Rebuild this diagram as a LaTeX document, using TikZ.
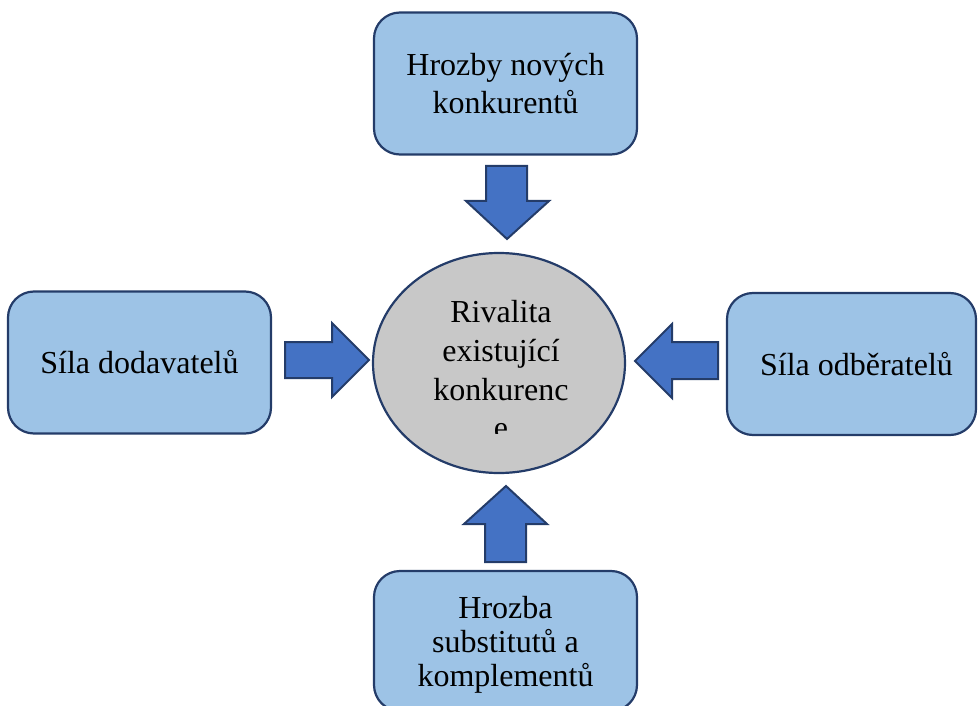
\documentclass[tikz,border=0pt]{standalone}
\usepackage{fontspec}
\setmainfont{Liberation Serif}
\usetikzlibrary{shapes.geometric}
\definecolor{boxfill}{RGB}{157,195,230}
\definecolor{edgecol}{RGB}{36,60,105}
\definecolor{arrowfill}{RGB}{68,114,196}
\definecolor{ellfill}{RGB}{200,200,200}
\begin{document}
\begin{tikzpicture}[x=1pt,y=-1pt,
  forcebox/.style={draw=edgecol, fill=boxfill, line width=2.2pt, rounded corners=26pt,
    minimum width=263pt, minimum height=142pt, align=center,
    font=\fontsize{32}{38}\selectfont, inner sep=0pt},
  blockarrow/.style={draw=edgecol, fill=arrowfill, line width=2pt, line join=miter},
  core/.style={ellipse, draw=edgecol, fill=ellfill, line width=2.2pt,
    minimum width=252pt, minimum height=220pt, inner sep=0pt},
  coretext/.style={align=center, font=\fontsize{32}{38.7}\selectfont, inner sep=0pt}]
\useasboundingbox (0,0) rectangle (978,706);
\clip (0,0) rectangle (978,706);
% boxes
\node[forcebox] (entrants) at (505.5,83.5) {Hrozby nových\\konkurentů};
\node[forcebox] (suppliers) at (139.5,362.5) {Síla dodavatelů};
\node[forcebox, minimum width=249pt] (buyers) at (851.5,364) {\hspace*{10pt}Síla odběratelů};
\node[forcebox, minimum height=140pt, font=\fontsize{32}{34}\selectfont] (substitutes) at (505.5,641)
  {\rule{0pt}{29pt}Hrozba\\substitutů a\\komplementů};
% centre
\node[core] (rivalry) at (499,363) {};
\begin{scope}
\clip (350,250) rectangle (650,433);
\node[coretext] (rivalrytext) at (501,370) {Rivalita\\existující\\konkurenc\\e};
\end{scope}
% block arrows
\draw[blockarrow] (486,166) -- (527,166) -- (527,201) -- (549,201) -- (507,239) -- (466,201) -- (486,201) -- cycle;
\draw[blockarrow] (285,342) -- (332,342) -- (332,323) -- (369,360) -- (332,397) -- (332,378) -- (285,378) -- cycle;
\draw[blockarrow] (718,342) -- (672,342) -- (672,324) -- (635,361) -- (672,398) -- (672,379) -- (718,379) -- cycle;
\draw[blockarrow] (485,562) -- (526,562) -- (526,524) -- (547,524) -- (506,486) -- (464,524) -- (485,524) -- cycle;
\end{tikzpicture}
\end{document}
